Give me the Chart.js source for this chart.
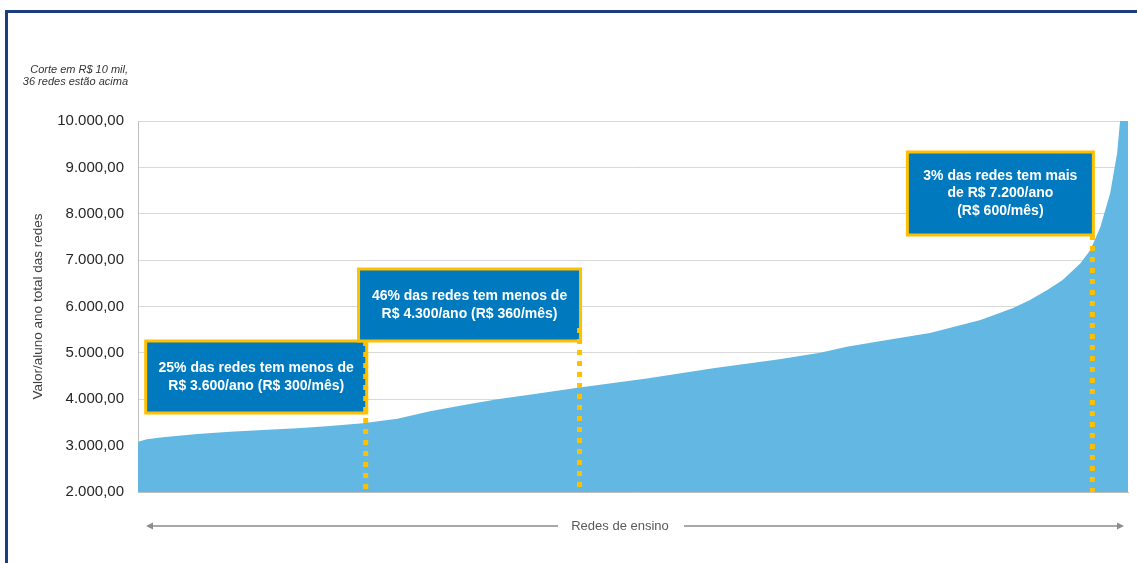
<!DOCTYPE html>
<html lang="pt-BR">
<head>
<meta charset="utf-8">
<title>Valor/aluno ano das redes</title>
<script src="https://cdn.jsdelivr.net/npm/chart.js@4.4.1/dist/chart.umd.min.js"></script>
<style>
    html, body { margin: 0; padding: 0; background: #fff; }
    #wrap { position: relative; width: 1137px; height: 563px; overflow: hidden; }
    #frame { position: absolute; left: 5px; top: 10px; width: 1300px; height: 800px; border: 3px solid #1f3c7e; box-sizing: border-box; }
    #chart { position: absolute; left: 0; top: 0; }
</style>
</head>
<body>
<div id="wrap">
    <div id="frame"></div>
    <canvas id="chart" width="1137" height="563"></canvas>
</div>
<script>
// posição da rede (% das redes, ordenadas) e valor/aluno ano
const ranks = [0, 0.9, 2.5, 6.0, 9.3, 12.6, 16.1, 19.4, 22.7, 26.2, 29.5, 32.8, 36.3, 40.6, 44.6,
    51.4, 58.1, 64.8, 68.9, 71.6, 74.9, 80.0, 85.1, 88.4, 90.1, 91.8, 93.4, 95.2, 96.2, 97.2,
    98.2, 98.9, 99.2, 100];
const values = [3085, 3136, 3180, 3250, 3300, 3336, 3373, 3422, 3481, 3580, 3740, 3870, 4000, 4130, 4256,
    4450, 4666, 4860, 5002, 5131, 5250, 5427, 5707, 5966, 6138, 6353, 6569, 6935, 7216, 7711,
    8444, 9306, 10000, 10000];

// eixo y
const yMin = 2000;
const yMax = 10000;
const yStep = 1000;

// cortes marcados com linha pontilhada
const markers = [23.0, 44.6, 96.4];
const markerTexts = [
    ['25% das redes tem menos de', 'R$ 3.600/ano (R$ 300/mês)'],
    ['46% das redes tem menos de', 'R$ 4.300/ano (R$ 360/mês)'],
    ['3% das redes tem mais', 'de R$ 7.200/ano', '(R$ 600/mês)']
];

// caixas (px): largura, topo, altura, início da linha pontilhada
const boxLayout = [
    { w: 221, top: 341, h: 72, lineTop: 341 },
    { w: 222, top: 269, h: 72, lineTop: 328 },
    { w: 186, top: 152, h: 83, lineTop: 235 }
];

const FONT = '"Liberation Sans", Arial, sans-serif';

function fmtBR(v) {
    const s = Math.round(v).toString().replace(/\B(?=(\d{3})+(?!\d))/g, '.');
    return s + ',00';
}

const extras = {
    id: 'extras',
    afterDraw(chart) {
        const ctx = chart.ctx;
        const xs = chart.scales.x;
        const bottom = chart.chartArea.bottom;

        // caixas
        markers.forEach((m, i) => {
            const b = boxLayout[i];
            const right = xs.getPixelForValue(m) + 1;
            const left = right - b.w;
            ctx.save();
            ctx.fillStyle = '#0079bf';
            ctx.fillRect(left, b.top, b.w, b.h);
            ctx.strokeStyle = '#ffc000';
            ctx.lineWidth = 3;
            ctx.strokeRect(left, b.top, b.w, b.h);
            ctx.fillStyle = '#ffffff';
            ctx.font = 'bold 14px ' + FONT;
            ctx.textAlign = 'center';
            ctx.textBaseline = 'middle';
            const lines = markerTexts[i];
            const lh = 17.5;
            const cy = b.top + b.h / 2 - (lines.length - 1) * lh / 2;
            lines.forEach((t, k) => ctx.fillText(t, left + b.w / 2, cy + k * lh));
            ctx.restore();
        });

        // linhas pontilhadas
        markers.forEach((m, i) => {
            const x = xs.getPixelForValue(m);
            ctx.save();
            ctx.strokeStyle = '#ffc000';
            ctx.lineWidth = 5;
            ctx.setLineDash([5, 6]);
            ctx.beginPath();
            ctx.moveTo(x, boxLayout[i].lineTop);
            ctx.lineTo(x, bottom);
            ctx.stroke();
            ctx.restore();
        });

        // nota de corte
        ctx.save();
        ctx.fillStyle = '#333333';
        ctx.font = 'italic 11px ' + FONT;
        ctx.textAlign = 'right';
        ctx.textBaseline = 'middle';
        ctx.fillText('Corte em R$ 10 mil,', 128, 70);
        ctx.fillText('36 redes estão acima', 128, 82);
        ctx.restore();

        // seta "Redes de ensino"
        const ay = 526;
        const x1 = 146, x2 = 1124, cx = 620;
        ctx.save();
        ctx.strokeStyle = '#8c8c8c';
        ctx.fillStyle = '#8c8c8c';
        ctx.lineWidth = 1.3;
        ctx.beginPath();
        ctx.moveTo(x1 + 4, ay); ctx.lineTo(cx - 62, ay);
        ctx.moveTo(cx + 64, ay); ctx.lineTo(x2 - 4, ay);
        ctx.stroke();
        ctx.beginPath();
        ctx.moveTo(x1, ay); ctx.lineTo(x1 + 7, ay - 3.5); ctx.lineTo(x1 + 7, ay + 3.5); ctx.closePath();
        ctx.moveTo(x2, ay); ctx.lineTo(x2 - 7, ay - 3.5); ctx.lineTo(x2 - 7, ay + 3.5); ctx.closePath();
        ctx.fill();
        ctx.fillStyle = '#595959';
        ctx.font = '13px ' + FONT;
        ctx.textAlign = 'center';
        ctx.textBaseline = 'middle';
        ctx.fillText('Redes de ensino', cx, ay);
        ctx.restore();
    }
};

const chart = new Chart(document.getElementById('chart'), {
    type: 'line',
    data: {
        datasets: [{
            data: ranks.map((r, i) => ({ x: r, y: values[i] })),
            backgroundColor: '#62b7e3',
            borderWidth: 0,
            pointRadius: 0,
            tension: 0,
            fill: 'start'
        }]
    },
    options: {
        responsive: false,
        animation: false,
        layout: { padding: { top: 121, right: 9, bottom: 71, left: 0 } },
        plugins: {
            legend: { display: false },
            tooltip: { enabled: false }
        },
        scales: {
            x: {
                type: 'linear',
                min: 0,
                max: 100,
                ticks: { display: false },
                grid: { display: false, drawTicks: false },
                border: { color: '#bfbfbf' },
                afterFit(s) { s.height = 0; }
            },
            y: {
                min: yMin,
                max: yMax,
                ticks: {
                    stepSize: yStep,
                    padding: 14,
                    color: '#262626',
                    font: { family: FONT, size: 15 },
                    callback: v => fmtBR(v)
                },
                grid: { color: '#d9d9d9', drawTicks: false },
                border: { color: '#bfbfbf' },
                title: {
                    display: true,
                    text: 'Valor/aluno ano total das redes',
                    color: '#404040',
                    font: { family: FONT, size: 13.5 },
                    padding: { top: 30, bottom: 0 }
                },
                afterFit(s) { s.width = 138; }
            }
        }
    },
    plugins: [extras]
});
</script>
</body>
</html>
